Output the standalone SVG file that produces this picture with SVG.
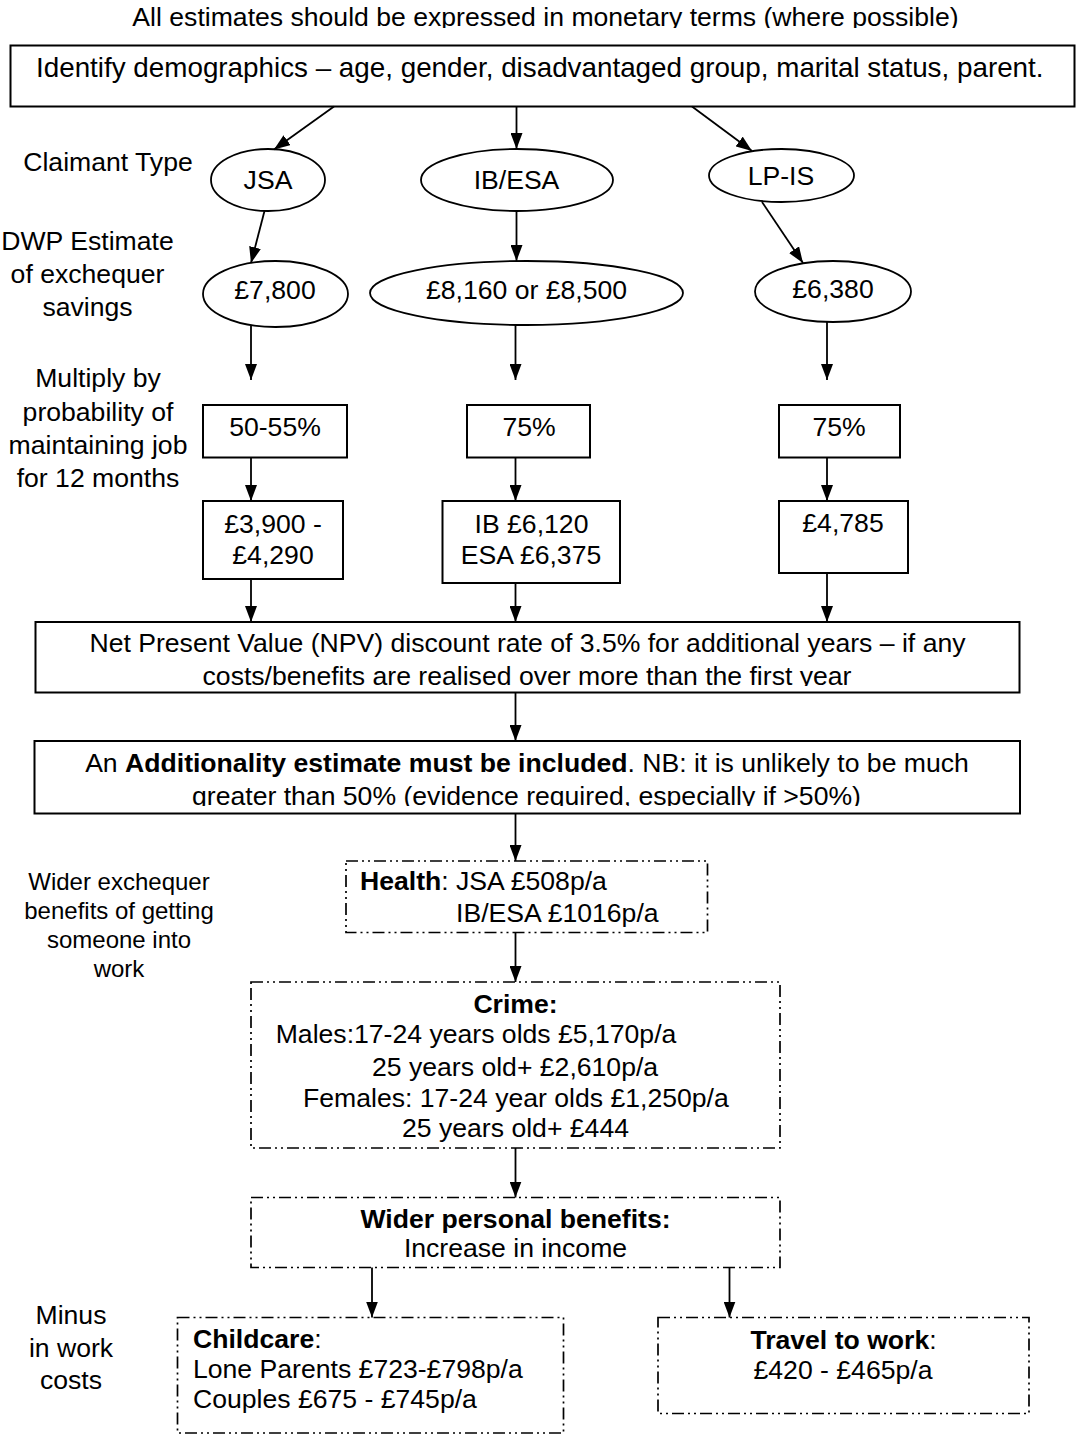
<svg xmlns="http://www.w3.org/2000/svg" width="1076" height="1437" viewBox="0 0 1076 1437">
<style>
text { font-family: "Liberation Sans", Arial, sans-serif; font-size: 26.6px; fill: #000; }
.m { text-anchor: middle; }
.s { font-size: 24px; }
.big { font-size: 27.8px; }
.b { font-weight: bold; }
.box { fill: #fff; stroke: #000; stroke-width: 2; }
.dd { fill: #fff; stroke: #000; stroke-width: 1.7; stroke-dasharray: 12 4 2 4 2 4; }
.ell { fill: #fff; stroke: #000; stroke-width: 1.8; }
#connectors line { stroke: #000; stroke-width: 1.8; marker-end: url(#ah); }
</style>
<defs>
<marker id="ah" markerUnits="userSpaceOnUse" viewBox="0 0 16 12" markerWidth="16" markerHeight="12" refX="16" refY="6" orient="auto">
<path d="M0,0 L16,6 L0,12 z" fill="#000"/>
</marker>
<clipPath id="clipTitle"><rect x="0" y="0" width="1076" height="28"/></clipPath>
<clipPath id="clipNpv"><rect x="36" y="623" width="983" height="63"/></clipPath>
<clipPath id="clipAdd"><rect x="35" y="742" width="985" height="64"/></clipPath>
</defs>
<rect width="1076" height="1437" fill="#fff"/>

<g id="labels">
<text class="m" x="545.5" y="26" clip-path="url(#clipTitle)">All estimates should be expressed in monetary terms (where possible)</text>
<text class="m" x="108" y="170.7">Claimant Type</text>
<text class="m" x="87.5" y="250">DWP Estimate</text>
<text class="m" x="87.5" y="283">of exchequer</text>
<text class="m" x="87.5" y="316">savings</text>
<text class="m" x="98" y="387">Multiply by</text>
<text class="m" x="98" y="420.5">probability of</text>
<text class="m" x="98" y="454">maintaining job</text>
<text class="m" x="98" y="487">for 12 months</text>
<text class="m s" x="119" y="890">Wider exchequer</text>
<text class="m s" x="119" y="919">benefits of getting</text>
<text class="m s" x="119" y="948">someone into</text>
<text class="m s" x="119" y="977">work</text>
<text class="m" x="71" y="1323.5">Minus</text>
<text class="m" x="71" y="1356.5">in work</text>
<text class="m" x="71" y="1388.5">costs</text>
</g>

<g id="node-demographics">
<rect class="box" x="10.5" y="45.5" width="1064" height="61"/>
<text class="big" x="36" y="76.7">Identify demographics – age, gender, disadvantaged group, marital status, parent.</text>
</g>

<g id="node-jsa">
<ellipse class="ell" cx="268" cy="180" rx="57" ry="31"/>
<text class="m" x="268" y="189">JSA</text>
</g>
<g id="node-ibesa">
<ellipse class="ell" cx="517" cy="180" rx="96" ry="31"/>
<text class="m" x="516.5" y="189">IB/ESA</text>
</g>
<g id="node-lpis">
<ellipse class="ell" cx="781.5" cy="175.5" rx="72.5" ry="26.5"/>
<text class="m" x="781" y="185">LP-IS</text>
</g>

<g id="node-7800">
<ellipse class="ell" cx="275.5" cy="294" rx="72.5" ry="33"/>
<text class="m" x="275" y="299">£7,800</text>
</g>
<g id="node-8160">
<ellipse class="ell" cx="526.5" cy="293" rx="156.5" ry="32"/>
<text class="m" x="526.5" y="299">£8,160 or £8,500</text>
</g>
<g id="node-6380">
<ellipse class="ell" cx="833" cy="291.5" rx="78" ry="30.5"/>
<text class="m" x="833" y="298">£6,380</text>
</g>

<g id="node-p-jsa">
<rect class="box" x="203" y="405" width="144" height="52.5"/>
<text class="m" x="275" y="436">50-55%</text>
</g>
<g id="node-p-ib">
<rect class="box" x="467" y="405" width="123" height="52.5"/>
<text class="m" x="529" y="436">75%</text>
</g>
<g id="node-p-lp">
<rect class="box" x="779" y="405" width="121" height="52.5"/>
<text class="m" x="839" y="436">75%</text>
</g>

<g id="node-r-jsa">
<rect class="box" x="203" y="501" width="140" height="78"/>
<text class="m" x="273" y="532.5">£3,900 -</text>
<text class="m" x="273" y="563.5">£4,290</text>
</g>
<g id="node-r-ib">
<rect class="box" x="442.5" y="501" width="177.5" height="82"/>
<text class="m" x="531.5" y="532.5">IB £6,120</text>
<text class="m" x="531" y="563.5">ESA £6,375</text>
</g>
<g id="node-r-lp">
<rect class="box" x="779" y="501" width="129" height="72"/>
<text class="m" x="843" y="532">£4,785</text>
</g>

<g id="node-npv">
<rect class="box" x="35.5" y="622" width="984" height="70.5"/>
<g clip-path="url(#clipNpv)">
<text class="m" x="527.5" y="651.7">Net Present Value (NPV) discount rate of 3.5% for additional years – if any</text>
<text class="m" x="527" y="684.7">costs/benefits are realised over more than the first year</text>
</g>
</g>

<g id="node-additionality">
<rect class="box" x="34.5" y="741" width="985.5" height="72.5"/>
<g clip-path="url(#clipAdd)">
<text class="m" x="527" y="771.7">An <tspan class="b">Additionality estimate must be included</tspan>. NB: it is unlikely to be much</text>
<text class="m" x="526.5" y="804.7">greater than 50% (evidence required, especially if &gt;50%)</text>
</g>
</g>

<g id="node-health">
<rect class="dd" x="346" y="861" width="361.5" height="71.5"/>
<text x="360" y="890"><tspan class="b">Health</tspan>: JSA £508p/a</text>
<text x="456" y="921.5">IB/ESA £1016p/a</text>
</g>

<g id="node-crime">
<rect class="dd" x="251" y="982" width="529" height="166"/>
<text class="m b" x="515.5" y="1012.7">Crime:</text>
<text x="275.7" y="1042.7">Males:17-24 years olds £5,170p/a</text>
<text x="372" y="1076">25 years old+ £2,610p/a</text>
<text x="303" y="1106.7">Females: 17-24 year olds £1,250p/a</text>
<text x="402" y="1136.7">25 years old+ £444</text>
</g>

<g id="node-personal">
<rect class="dd" x="251" y="1197.5" width="529" height="70"/>
<text class="m b" x="515.5" y="1228">Wider personal benefits:</text>
<text class="m" x="515.5" y="1257">Increase in income</text>
</g>

<g id="node-childcare">
<rect class="dd" x="177.5" y="1317.5" width="386" height="115.5"/>
<text x="193" y="1348.3"><tspan class="b">Childcare</tspan>:</text>
<text x="193" y="1378.3">Lone Parents £723-£798p/a</text>
<text x="193" y="1408.3">Couples £675 - £745p/a</text>
</g>

<g id="node-travel">
<rect class="dd" x="658" y="1317.5" width="371" height="96"/>
<text class="m" x="843.5" y="1349.3"><tspan class="b">Travel to work</tspan>:</text>
<text class="m" x="843" y="1379.3">£420 - £465p/a</text>
</g>

<g id="connectors">
<line x1="334" y1="106.5" x2="274" y2="149.5"/>
<line x1="516.5" y1="106.5" x2="516.5" y2="149"/>
<line x1="692" y1="106.5" x2="752" y2="151"/>
<line x1="264.5" y1="211" x2="251" y2="263"/>
<line x1="516.5" y1="211" x2="516.5" y2="261"/>
<line x1="762" y1="202" x2="803" y2="263"/>
<line x1="251" y1="326" x2="251" y2="380"/>
<line x1="515.5" y1="325" x2="515.5" y2="380"/>
<line x1="827" y1="322" x2="827" y2="380"/>
<line x1="251" y1="457.5" x2="251" y2="501"/>
<line x1="515.5" y1="457.5" x2="515.5" y2="501"/>
<line x1="827" y1="457.5" x2="827" y2="501"/>
<line x1="251" y1="579" x2="251" y2="622"/>
<line x1="515.5" y1="583" x2="515.5" y2="622"/>
<line x1="827" y1="573" x2="827" y2="622"/>
<line x1="515.5" y1="692.5" x2="515.5" y2="741"/>
<line x1="515.5" y1="813.5" x2="515.5" y2="861"/>
<line x1="515.5" y1="932.5" x2="515.5" y2="982"/>
<line x1="515.5" y1="1148" x2="515.5" y2="1197.5"/>
<line x1="372" y1="1267.5" x2="372" y2="1317.5"/>
<line x1="729.5" y1="1267.5" x2="729.5" y2="1317.5"/>
</g>
</svg>
